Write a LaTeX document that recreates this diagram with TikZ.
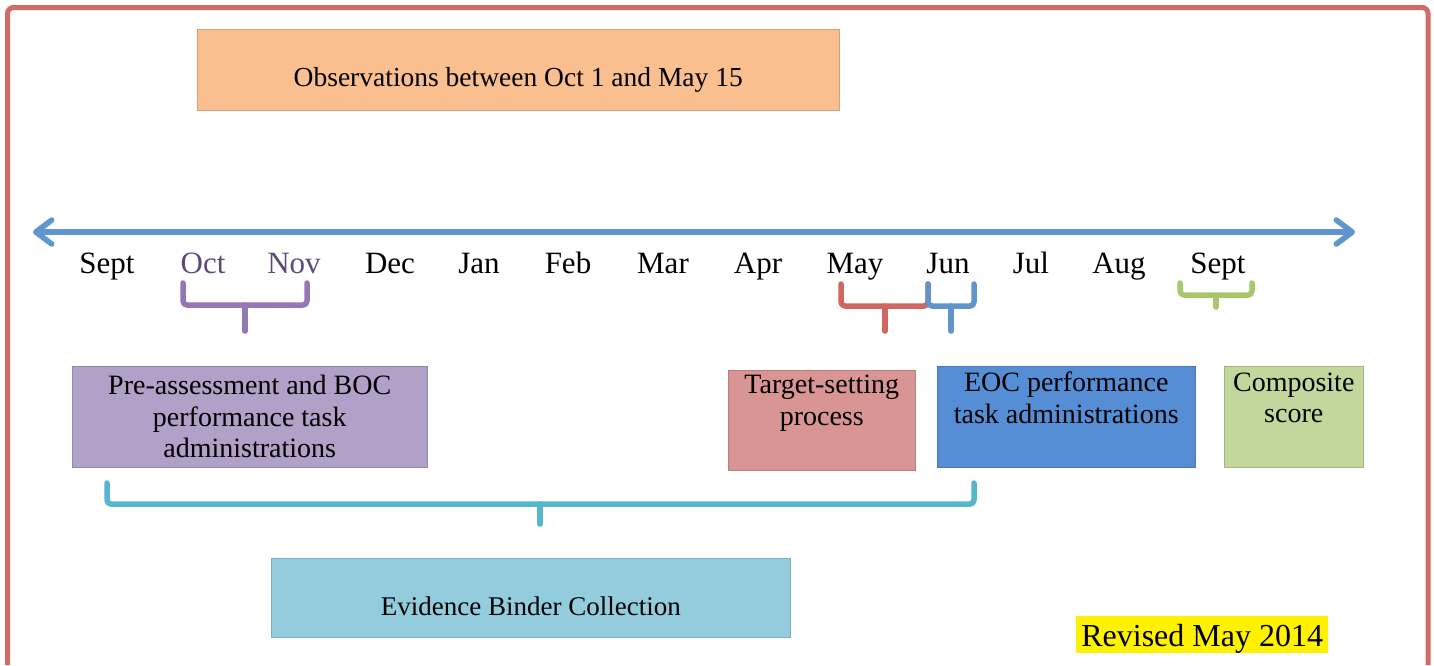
\documentclass[tikz,border=0pt]{standalone}
\definecolor{framered}{HTML}{D06B66}
\definecolor{tlblue}{HTML}{6096CF}
\definecolor{monthpurple}{HTML}{5F497A}
\definecolor{bpurple}{HTML}{9378B4}
\definecolor{bred}{HTML}{CF665F}
\definecolor{bblue}{HTML}{5F95CC}
\definecolor{bgreen}{HTML}{A6C86B}
\definecolor{bcyan}{HTML}{56B6CD}
\definecolor{obsbg}{HTML}{F9BF8F}
\definecolor{prebg}{HTML}{B1A0C7}
\definecolor{tgtbg}{HTML}{D99594}
\definecolor{eocbg}{HTML}{558ED5}
\definecolor{compbg}{HTML}{C3D69B}
\definecolor{evbg}{HTML}{93CDDD}
\usepackage{fontspec}
\setmainfont{Liberation Serif}
\usepackage{tikz}
\usetikzlibrary{arrows.meta}
\tikzset{
  framebox/.style={draw=framered, line width=5pt, rounded corners=6pt},
  shd/.style={preaction={draw=black, opacity=0.15,
              transform canvas={shift={(1.5pt,-2.5pt)}}}},
  tlarr/.style={{Straight Barb[length=16pt,width=24pt,round]}-{Straight Barb[length=16pt,width=24pt,round]},
                draw=tlblue, line width=5.5pt, shd},
  brk/.style={line width=5.5pt, rounded corners=4pt, line cap=round, line join=round, shd},
  mlabel/.style={font=\fontsize{31}{34}\selectfont, anchor=base, inner sep=0pt},
  tbox/.style={anchor=north west, inner sep=3pt, align=center,
               font=\fontsize{28}{31.5}\selectfont},
  obsbox/.style={tbox, fill=obsbg, draw=obsbg!85!black, line width=0.5pt,
                 font=\fontsize{27.5}{31}\selectfont},
  prebox/.style={tbox, fill=prebg, draw=prebg!85!black, line width=0.5pt},
  tgtbox/.style={tbox, fill=tgtbg, draw=tgtbg!85!black, line width=0.5pt, text depth=40pt},
  eocbox/.style={tbox, fill=eocbg, draw=eocbg!85!black, line width=0.5pt, text depth=38pt},
  compbox/.style={tbox, fill=compbg, draw=compbg!85!black, line width=0.5pt, text depth=38pt},
  evbox/.style={tbox, fill=evbg, draw=evbg!85!black, line width=0.5pt,
                font=\fontsize{27}{30}\selectfont},
  revnote/.style={fill=yellow, inner sep=0pt, anchor=base west,
                  font=\fontsize{32}{36}\selectfont},
}

\begin{document}
\begin{tikzpicture}[x=1pt, y=-1pt]
  \useasboundingbox (0,0) rectangle (1434,665);

  %% outer frame, open at the bottom
  \draw[framebox] (7.5,665) -- (7.5,7.5) -- (1428,7.5) -- (1428,665);

  %% observation window
  \node[obsbox, minimum width=642pt, minimum height=81pt, text height=39pt]
    (obs) at (197,29) {Observations between Oct 1 and May 15};

  %% timeline
  \coordinate (tlstart) at (33,232);
  \coordinate (tlend) at (1355,232);
  \draw[tlarr] (tlstart) -- (tlend);

  %% months
  \node[mlabel] (sep1) at (107,273) {Sept};
  \node[mlabel, monthpurple] (oct) at (203,273) {Oct};
  \node[mlabel, monthpurple] (nov) at (294,273) {Nov};
  \node[mlabel] (dec) at (390,273) {Dec};
  \node[mlabel] (jan) at (479,273) {Jan};
  \node[mlabel] (feb) at (568,273) {Feb};
  \node[mlabel] (mar) at (663,273) {Mar};
  \node[mlabel] (apr) at (758,273) {Apr};
  \node[mlabel] (may) at (855,273) {May};
  \node[mlabel] (jun) at (948,273) {Jun};
  \node[mlabel] (jul) at (1031,273) {Jul};
  \node[mlabel] (aug) at (1119,273) {Aug};
  \node[mlabel] (sep2) at (1218,273) {Sept};

  %% brackets under the months
  \draw[brk, bpurple] (183,283) -- (183,305) -- (307,305) -- (307,283);
  \draw[brk, bpurple, rounded corners=0pt] (245,305) -- (245,331);
  \draw[brk, bred] (841,284) -- (841,306) -- (928,306) -- (928,284);
  \draw[brk, bred, rounded corners=0pt] (885,306) -- (885,331);
  \draw[brk, bblue] (928,284) -- (928,306) -- (974,306) -- (974,284);
  \draw[brk, bblue, rounded corners=0pt] (951,306) -- (951,331);
  \draw[brk, bgreen] (1180,283) -- (1180,295) -- (1252,295) -- (1252,283);
  \draw[brk, bgreen, rounded corners=0pt] (1216,295) -- (1216,307);

  %% activity boxes
  \node[prebox, minimum width=355pt, minimum height=101pt]
    (pre) at (72,366) {Pre-assessment and BOC\\performance task\\administrations};
  \node[tgtbox, minimum width=187pt, minimum height=100pt]
    (tgt) at (728,370) {Target-setting\\process};
  \node[eocbox, minimum width=258pt, minimum height=101pt]
    (eoc) at (937,366) {EOC performance\\task administrations};
  \node[compbox, minimum width=139pt, minimum height=101pt]
    (comp) at (1224,366) {Composite\\score};

  %% evidence bracket
  \draw[brk, bcyan] (107,483) -- (107,504) -- (974,504) -- (974,483);
  \draw[brk, bcyan, rounded corners=0pt] (540,504) -- (540,524);

  \node[evbox, minimum width=519pt, minimum height=79pt, text height=35pt]
    (ev) at (271,558) {Evidence Binder Collection};

  %% revision note
  \node[revnote, minimum width=252pt, text height=30pt, text depth=7pt]
    (rev) at (1076,646) {Revised May 2014};

\end{tikzpicture}
\end{document}
